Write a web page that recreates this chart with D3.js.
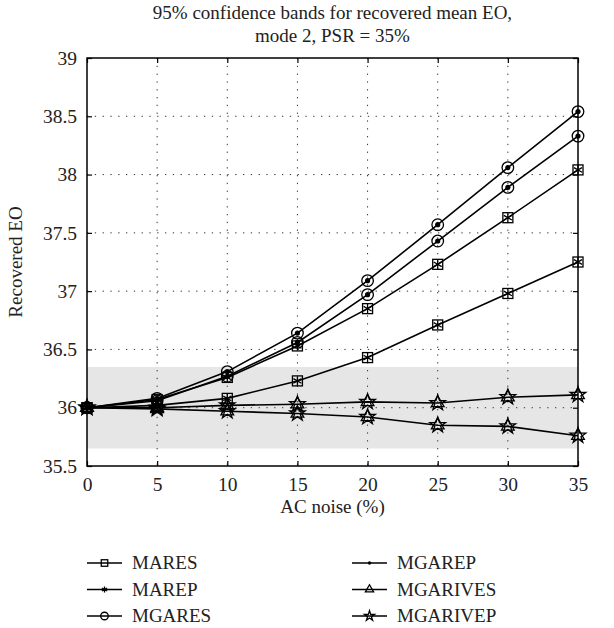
<!DOCTYPE html>
<html>
<head>
<meta charset="utf-8">
<script src="https://cdn.jsdelivr.net/npm/d3@7"></script>
<style>
  body { margin: 0; background: #fff; }
  text { font-family: "Liberation Serif", "Times New Roman", serif; }
</style>
</head>
<body>
<div id="chart"></div>
<script>
// values
var noise = [0, 5, 10, 15, 20, 25, 30, 35];
var yTicks = [35.5, 36, 36.5, 37, 37.5, 38, 38.5, 39];
var band = [35.65, 36.35];

var circleHi = [36, 36.08, 36.31, 36.64, 37.09, 37.57, 38.06, 38.54];
var circleLo = [36, 36.06, 36.27, 36.56, 36.97, 37.43, 37.89, 38.33];
var squareHi = [36, 36.07, 36.26, 36.53, 36.85, 37.23, 37.63, 38.04];
var squareLo = [36, 36.02, 36.08, 36.23, 36.43, 36.71, 36.98, 37.25];
var starHi   = [36, 36.00, 36.02, 36.03, 36.05, 36.04, 36.09, 36.11];
var starLo   = [36, 35.99, 35.97, 35.95, 35.92, 35.85, 35.84, 35.76];

var legendNames = ["MARES", "MAREP", "MGARES", "MGAREP", "MGARIVES", "MGARIVEP"];
var legendMarks = ["square", "asterisk", "circle", "dot", "triangle", "star"];

var lines = [
  {values: squareHi, marks: ["square", "asterisk"]},
  {values: squareLo, marks: ["square", "asterisk"]},
  {values: circleHi, marks: ["circle", "dot"]},
  {values: circleLo, marks: ["circle", "dot"]},
  {values: starHi, marks: ["triangle", "star"]},
  {values: starLo, marks: ["triangle", "star"]}
];

var FONT = "Liberation Serif";
var width = 614, height = 628;
var margin = {top: 58, right: 36, bottom: 162, left: 87};
var w = width - margin.left - margin.right,
    h = height - margin.top - margin.bottom;

var svg = d3.select("#chart").append("svg")
  .attr("width", width).attr("height", height);

var x = d3.scaleLinear().domain([0, 35]).range([0, w]);
var y = d3.scaleLinear().domain([35.5, 39]).range([h, 0]);

var g = svg.append("g").attr("transform", "translate(" + margin.left + "," + margin.top + ")");

// confidence band
g.append("rect")
  .attr("x", 0).attr("width", w)
  .attr("y", y(band[1])).attr("height", y(band[0]) - y(band[1]))
  .attr("fill", "#e6e6e6");

// dotted grid
g.selectAll(".vgrid").data(noise.slice(1, -1)).enter().append("line")
  .attr("x1", function(d) { return x(d); }).attr("x2", function(d) { return x(d); })
  .attr("y1", 0).attr("y2", h)
  .attr("stroke", "#333").attr("stroke-width", 1).attr("stroke-dasharray", "1.3,6.5");
g.selectAll(".hgrid").data(yTicks.slice(1, -1)).enter().append("line")
  .attr("y1", function(d) { return y(d); }).attr("y2", function(d) { return y(d); })
  .attr("x1", 0).attr("x2", w)
  .attr("stroke", "#333").attr("stroke-width", 1).attr("stroke-dasharray", "1.3,6.5");

// axes with inward ticks
var xAxis = g.append("g").attr("transform", "translate(0," + h + ")")
  .call(d3.axisBottom(x).tickValues(noise).tickSize(-5).tickPadding(11).tickSizeOuter(0));
var yAxis = g.append("g")
  .call(d3.axisLeft(y).tickValues(yTicks).tickSize(-5).tickPadding(10).tickFormat(d3.format("")).tickSizeOuter(0));
g.append("g")
  .call(d3.axisTop(x).tickValues(noise).tickSize(-5).tickFormat("").tickSizeOuter(0));
g.append("g").attr("transform", "translate(" + w + ",0)")
  .call(d3.axisRight(y).tickValues(yTicks).tickSize(-5).tickFormat("").tickSizeOuter(0));
g.selectAll(".domain").remove();
g.selectAll(".tick line").attr("stroke", "#000").attr("stroke-width", 1.2);
xAxis.attr("font-family", FONT).attr("font-size", 19.5);
yAxis.attr("font-family", FONT).attr("font-size", 19.5);
g.selectAll(".tick text").attr("fill", "#222");

g.append("rect").attr("width", w).attr("height", h)
  .attr("fill", "none").attr("stroke", "#000").attr("stroke-width", 1.5);

// marker drawing
function drawMark(sel, type, cx, cy, scale) {
  var s = scale || 1;
  if (type === "square") {
    sel.append("rect").attr("x", cx - 5 * s).attr("y", cy - 5 * s)
      .attr("width", 10 * s).attr("height", 10 * s)
      .attr("fill", "none").attr("stroke", "#000").attr("stroke-width", 1.3);
  } else if (type === "circle") {
    sel.append("circle").attr("cx", cx).attr("cy", cy).attr("r", 5.8 * s)
      .attr("fill", "none").attr("stroke", "#000").attr("stroke-width", 1.3);
  } else if (type === "dot") {
    sel.append("circle").attr("cx", cx).attr("cy", cy).attr("r", 2.6 * s).attr("fill", "#000");
  } else {
    var sym = {asterisk: d3.symbolAsterisk, triangle: d3.symbolTriangle, star: d3.symbolStar}[type];
    var size = {asterisk: 60, triangle: 70, star: 75}[type] * s * s;
    sel.append("path")
      .attr("transform", "translate(" + cx + "," + cy + ")")
      .attr("d", d3.symbol().type(sym).size(size)())
      .attr("fill", "none").attr("stroke", "#000").attr("stroke-width", 1.3);
  }
}

var line = d3.line()
  .x(function(d, i) { return x(noise[i]); })
  .y(function(d) { return y(d); });

lines.forEach(function(s) {
  g.append("path").datum(s.values).attr("d", line)
    .attr("fill", "none").attr("stroke", "#000").attr("stroke-width", 1.6);
});
lines.forEach(function(s) {
  var mg = g.append("g");
  s.values.forEach(function(v, i) {
    s.marks.forEach(function(m) { drawMark(mg, m, x(noise[i]), y(v)); });
  });
});

// titles
var texts = svg.append("g").attr("font-family", FONT).attr("font-size", 19).attr("fill", "#222");
texts.append("text").attr("x", margin.left + w / 2).attr("y", 19)
  .attr("text-anchor", "middle")
  .text("95% confidence bands for recovered mean EO,");
texts.append("text").attr("x", margin.left + w / 2).attr("y", 42)
  .attr("text-anchor", "middle")
  .text("mode 2, PSR = 35%");
texts.append("text").attr("x", margin.left + w / 2).attr("y", 513)
  .attr("text-anchor", "middle")
  .text("AC noise (%)");
texts.append("text")
  .attr("transform", "translate(22," + (margin.top + h / 2) + ") rotate(-90)")
  .attr("text-anchor", "middle")
  .text("Recovered EO");

// legend
var legend = svg.append("g").attr("font-family", FONT).attr("font-size", 19).attr("fill", "#222");
legendNames.forEach(function(name, i) {
  var col = Math.floor(i / 3), row = i % 3;
  var lx = col === 0 ? 87 : 352, ly = 563 + row * 26.5;
  legend.append("line").attr("x1", lx).attr("x2", lx + 35).attr("y1", ly).attr("y2", ly)
    .attr("stroke", "#000").attr("stroke-width", 1.3);
  drawMark(legend, legendMarks[i], lx + 17.5, ly, 0.65);
  legend.append("text").attr("x", lx + 45).attr("y", ly + 6).text(name);
});
</script>
</body>
</html>
